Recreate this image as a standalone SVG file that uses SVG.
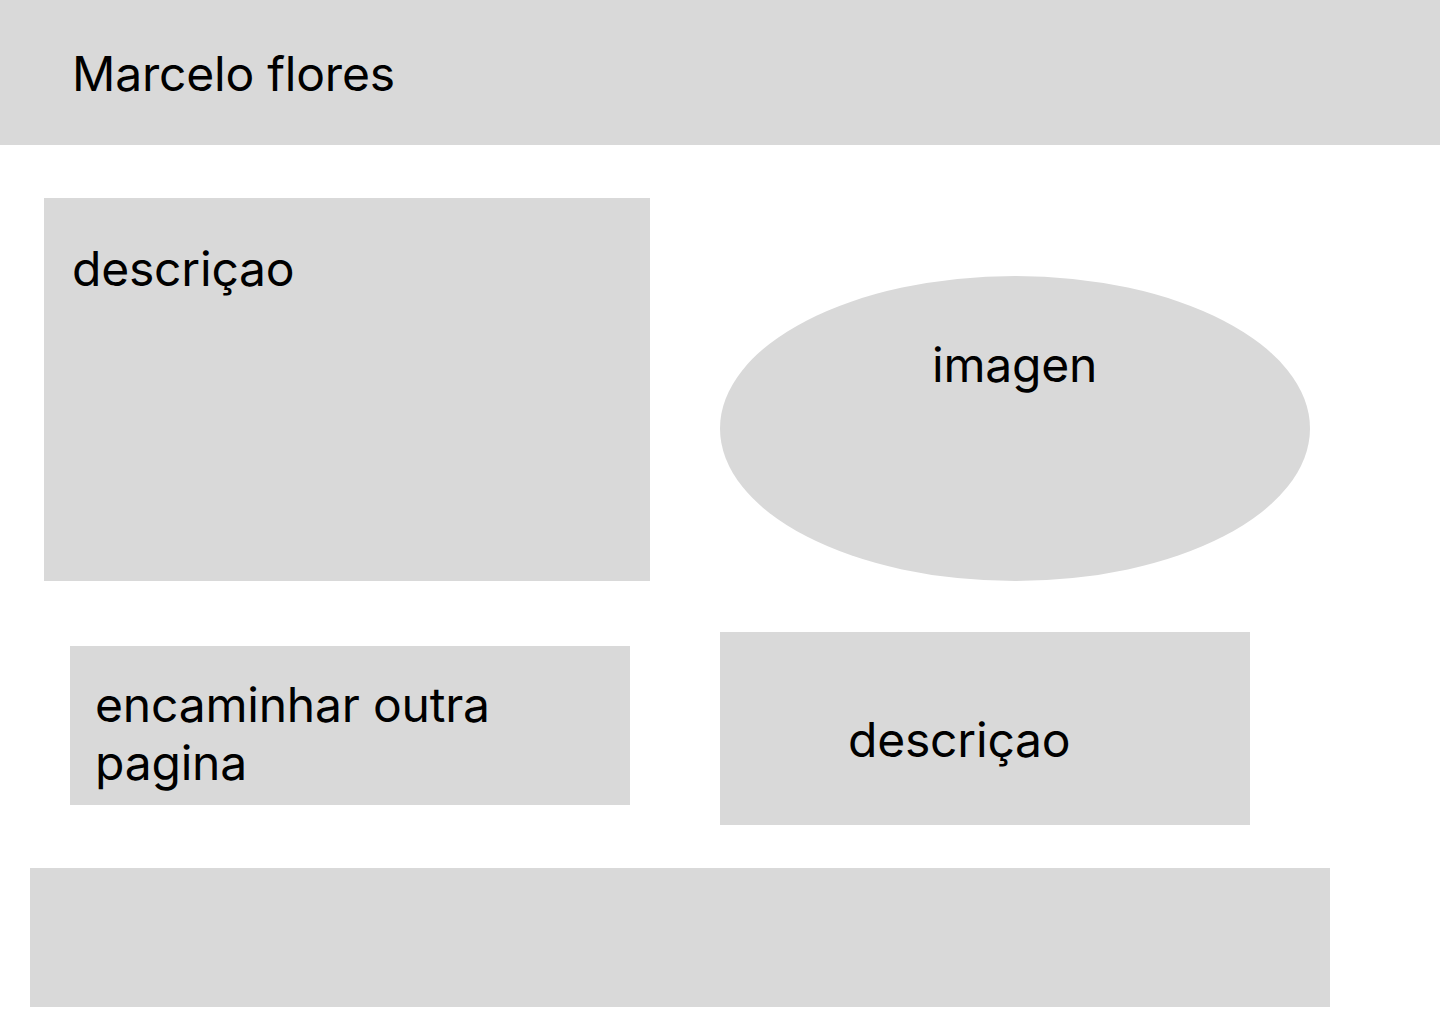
<svg xmlns="http://www.w3.org/2000/svg" width="1440" height="1024" viewBox="0 0 1440 1024">
<style>
.box{fill:#d9d9d9}
.t{font-family:Inter,"Liberation Sans",sans-serif;font-size:48px;fill:#000;letter-spacing:-0.2px}
</style>
<rect width="1440" height="1024" fill="#fff"/>
<g id="header"><rect class="box" x="0" y="0" width="1440" height="145"/><text class="t" x="72" y="91">Marcelo flores</text></g>
<g id="descricao1"><rect class="box" x="44" y="198" width="606" height="383"/><text class="t" x="72" y="286">descriçao</text></g>
<g id="imagen"><ellipse class="box" cx="1015" cy="428.5" rx="295" ry="152.5"/><text class="t" x="932" y="382">imagen</text></g>
<g id="encaminhar"><rect class="box" x="70" y="646" width="560" height="159"/><text class="t" x="95" y="722">encaminhar outra</text><text class="t" x="95" y="780">pagina</text></g>
<g id="descricao2"><rect class="box" x="720" y="632" width="530" height="193"/><text class="t" x="848" y="757">descriçao</text></g>
<g id="footer"><rect class="box" x="30" y="868" width="1300" height="139"/></g>
<g id="connectors"></g>
</svg>
